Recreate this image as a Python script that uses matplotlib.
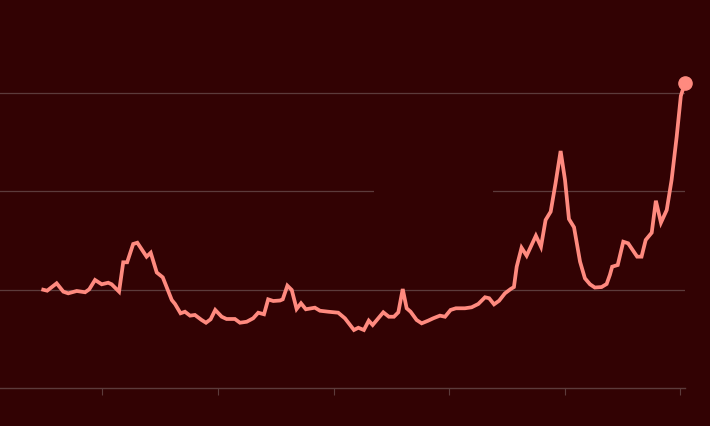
import matplotlib
matplotlib.use("Agg")
import matplotlib.pyplot as plt
from matplotlib.patches import Rectangle

# quarterly index values (base ~100)
years = [1997.44, 1997.61, 1998.02, 1998.31, 1998.52, 1998.89, 1999.25, 1999.43, 1999.68, 1999.97,
         2000.25, 2000.40, 2000.72, 2000.90, 2001.07, 2001.33, 2001.51, 2001.91, 2002.09, 2002.35,
         2002.61, 2003.00, 2003.14, 2003.38, 2003.57, 2003.79, 2004.00, 2004.29, 2004.48, 2004.68,
         2004.88, 2005.16, 2005.37, 2005.73, 2005.95, 2006.24, 2006.52, 2006.74, 2006.99, 2007.17,
         2007.39, 2007.68, 2007.80, 2008.00, 2008.19, 2008.40, 2008.59, 2008.80, 2009.19, 2009.41,
         2009.77, 2010.20, 2010.49, 2010.88, 2011.07, 2011.31, 2011.52, 2011.69, 2012.15, 2012.39,
         2012.61, 2012.80, 2012.99, 2013.16, 2013.33, 2013.59, 2013.81, 2014.09, 2014.31, 2014.60,
         2014.82, 2015.06, 2015.29, 2015.68, 2015.97, 2016.26, 2016.55, 2016.73, 2016.94, 2017.16,
         2017.41, 2017.66, 2017.80, 2017.92, 2018.13, 2018.35, 2018.75, 2018.97, 2019.17, 2019.39,
         2019.60, 2019.82, 2020.01, 2020.18, 2020.40, 2020.66, 2020.87, 2021.09, 2021.30, 2021.59,
         2021.81, 2021.95, 2022.05, 2022.29, 2022.53, 2022.74, 2023.13, 2023.32, 2023.50, 2023.76,
         2023.94, 2024.16, 2024.41, 2024.62, 2024.84, 2025.02, 2025.20]
values = [100.0, 99.0, 106.5, 98.0, 96.3, 98.7, 97.4, 100.4, 109.9, 105.5,
          107.1, 105.5, 98.0, 127.9, 127.9, 146.5, 147.8, 133.6, 137.6, 117.5,
          112.6, 89.5, 85.5, 76.0, 77.6, 73.6, 74.3, 69.2, 66.4, 69.9,
          79.4, 72.5, 70.2, 70.2, 66.4, 67.4, 70.9, 76.6, 75.0, 90.2,
          88.5, 89.0, 90.2, 104.1, 99.7, 80.4, 86.2, 80.1, 81.7, 78.6,
          77.6, 76.6, 70.9, 59.0, 61.3, 59.0, 68.5, 64.1, 77.0, 72.5,
          72.5, 77.0, 100.7, 81.1, 77.6, 69.2, 65.8, 68.5, 70.9, 73.6,
          72.5, 79.4, 81.1, 81.1, 82.1, 85.5, 92.3, 91.3, 85.1, 88.8,
          96.3, 100.7, 102.7, 123.4, 142.7, 134.6, 154.9, 143.7, 170.9, 179.4,
          208.2, 241.1, 211.6, 171.9, 163.5, 128.5, 111.6, 105.5, 102.2, 102.7,
          105.8, 115.0, 123.4, 125.1, 148.8, 147.2, 133.6, 133.6, 150.6, 158.0,
          190.5, 168.2, 181.1, 211.6, 255.6, 297.1, 310.6]
tick_years = [2000, 2005, 2010, 2015, 2020, 2025]
grid_values = [100, 200, 300]

bg = "#320203"
line_color = "#ff8a7f"
grid_color = "#5c3b3b"

fig = plt.figure(figsize=(7.1, 4.26), dpi=100, facecolor=bg)
ax = fig.add_axes([0, 0.0892, 685 / 710, 0.9108])
ax.set_facecolor(bg)

ax.plot(years, values, color=line_color, lw=2.7, solid_joinstyle="miter", zorder=3)
ax.plot(years[-1], values[-1], "o", color=line_color, ms=9.5, clip_on=False, zorder=4)

for v in grid_values:
    ax.axhline(v, color=grid_color, lw=0.9, zorder=1)
# empty label box breaks the middle gridline
ax.add_patch(Rectangle((2011.75, 190), 5.15, 20, facecolor=bg, edgecolor="none", zorder=1.5))

ax.set_xlim(1995.57, 2025.20)
ax.set_ylim(0, 394.7)

for s in ["top", "right", "left"]:
    ax.spines[s].set_visible(False)
ax.spines["bottom"].set_color(grid_color)
ax.spines["bottom"].set_linewidth(1.0)

ax.set_xticks(tick_years)
ax.set_xticklabels([])
ax.set_yticks([])
ax.tick_params(axis="x", length=5, width=0.8, color=grid_color, direction="out")

fig.savefig("out.png", dpi=100, facecolor=bg)
